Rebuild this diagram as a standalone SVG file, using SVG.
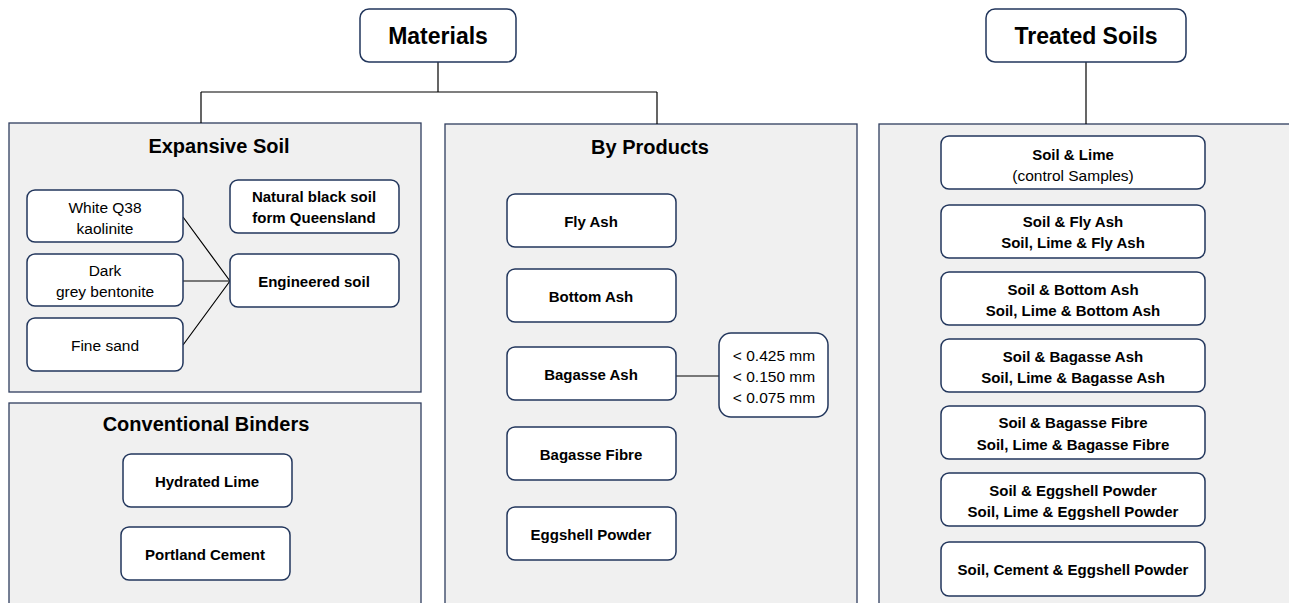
<svg xmlns="http://www.w3.org/2000/svg" width="1289" height="603" viewBox="0 0 1289 603">
<style>
.panel{fill:#f0f0f0;stroke:#2f3d5e;stroke-width:1.3}
.box{fill:#fff;stroke:#22365c;stroke-width:1.5}
.t{font-family:"Liberation Sans",Arial,sans-serif;fill:#000;text-anchor:middle;dominant-baseline:central}
.h{font-size:20px;font-weight:bold}
.b{font-size:15px;font-weight:bold}
.n{font-size:15.5px}
.top{font-size:23px;font-weight:bold}
.c{stroke:#000;stroke-width:1.2;fill:none}
</style>
<rect width="1289" height="603" fill="#fff"/>
<g id="expansive-soil">
<rect class="panel" x="9" y="123" width="412" height="269"/>
<text class="t h" x="219" y="146">Expansive Soil</text>
</g>
<g id="conventional-binders">
<rect class="panel" x="9" y="403" width="412" height="215"/>
<text class="t h" x="206" y="424">Conventional Binders</text>
</g>
<g id="by-products">
<rect class="panel" x="445" y="124" width="412" height="494"/>
<text class="t h" x="650" y="147">By Products</text>
</g>
<g id="treated-panel">
<rect class="panel" x="879" y="124" width="420" height="494"/>
</g>
<g id="connectors">
<path class="c" d="M438 62V92M201 92H657M201 92V123M657 92V124"/>
<path class="c" d="M1086 62V124"/>
<path class="c" d="M183 217L230 281M183 281H230M183 345L230 281"/>
<path class="c" d="M676 376H719"/>
</g>
<g id="materials"><rect class="box" x="360" y="9" width="156" height="53" rx="9"/><text class="t top" x="438" y="36">Materials</text></g>
<g id="treated-soils"><rect class="box" x="986" y="9" width="200" height="53" rx="9"/><text class="t top" x="1086" y="36">Treated Soils</text></g>

<g id="kaolinite"><rect class="box" x="27" y="190" width="156" height="52" rx="8"/><text class="t n" x="105" y="207">White Q38</text><text class="t n" x="105" y="228">kaolinite</text></g>
<g id="bentonite"><rect class="box" x="27" y="254" width="156" height="52" rx="8"/><text class="t n" x="105" y="270">Dark</text><text class="t n" x="105" y="291">grey bentonite</text></g>
<g id="fine-sand"><rect class="box" x="27" y="318" width="156" height="53" rx="8"/><text class="t n" x="105" y="345">Fine sand</text></g>
<g id="natural-soil"><rect class="box" x="230" y="180" width="169" height="53" rx="8"/><text class="t b" x="314" y="196">Natural black soil</text><text class="t b" x="314" y="217">form Queensland</text></g>
<g id="engineered-soil"><rect class="box" x="230" y="254" width="169" height="53" rx="8"/><text class="t b" x="314" y="281">Engineered soil</text></g>

<g id="hydrated-lime"><rect class="box" x="123" y="454" width="169" height="53" rx="8"/><text class="t b" x="207" y="481">Hydrated Lime</text></g>
<g id="portland-cement"><rect class="box" x="121" y="527" width="169" height="53" rx="8"/><text class="t b" x="205" y="554">Portland Cement</text></g>

<g id="fly-ash"><rect class="box" x="507" y="194" width="169" height="53" rx="8"/><text class="t b" x="591" y="221">Fly Ash</text></g>
<g id="bottom-ash"><rect class="box" x="507" y="269" width="169" height="53" rx="8"/><text class="t b" x="591" y="296">Bottom Ash</text></g>
<g id="bagasse-ash"><rect class="box" x="507" y="347" width="169" height="53" rx="8"/><text class="t b" x="591" y="374">Bagasse Ash</text></g>
<g id="bagasse-fibre"><rect class="box" x="507" y="427" width="169" height="53" rx="8"/><text class="t b" x="591" y="454">Bagasse Fibre</text></g>
<g id="eggshell-powder"><rect class="box" x="507" y="507" width="169" height="53" rx="8"/><text class="t b" x="591" y="534">Eggshell Powder</text></g>
<g id="sizes"><rect class="box" x="719" y="333" width="109" height="84" rx="12"/><text class="t n" x="774" y="355">&lt; 0.425 mm</text><text class="t n" x="774" y="376">&lt; 0.150 mm</text><text class="t n" x="774" y="397">&lt; 0.075 mm</text></g>

<g id="ts1"><rect class="box" x="941" y="136" width="264" height="53" rx="8"/><text class="t b" x="1073" y="154">Soil &amp; Lime</text><text class="t n" x="1073" y="175">(control Samples)</text></g>
<g id="ts2"><rect class="box" x="941" y="205" width="264" height="53" rx="8"/><text class="t b" x="1073" y="221">Soil &amp; Fly Ash</text><text class="t b" x="1073" y="242">Soil, Lime &amp; Fly Ash</text></g>
<g id="ts3"><rect class="box" x="941" y="272" width="264" height="53" rx="8"/><text class="t b" x="1073" y="289">Soil &amp; Bottom Ash</text><text class="t b" x="1073" y="310">Soil, Lime &amp; Bottom Ash</text></g>
<g id="ts4"><rect class="box" x="941" y="339" width="264" height="53" rx="8"/><text class="t b" x="1073" y="356">Soil &amp; Bagasse Ash</text><text class="t b" x="1073" y="377">Soil, Lime &amp; Bagasse Ash</text></g>
<g id="ts5"><rect class="box" x="941" y="406" width="264" height="53" rx="8"/><text class="t b" x="1073" y="422">Soil &amp; Bagasse Fibre</text><text class="t b" x="1073" y="444">Soil, Lime &amp; Bagasse Fibre</text></g>
<g id="ts6"><rect class="box" x="941" y="473" width="264" height="53" rx="8"/><text class="t b" x="1073" y="490">Soil &amp; Eggshell Powder</text><text class="t b" x="1073" y="511">Soil, Lime &amp; Eggshell Powder</text></g>
<g id="ts7"><rect class="box" x="941" y="542" width="264" height="54" rx="8"/><text class="t b" x="1073" y="569">Soil, Cement &amp; Eggshell Powder</text></g>
</svg>
